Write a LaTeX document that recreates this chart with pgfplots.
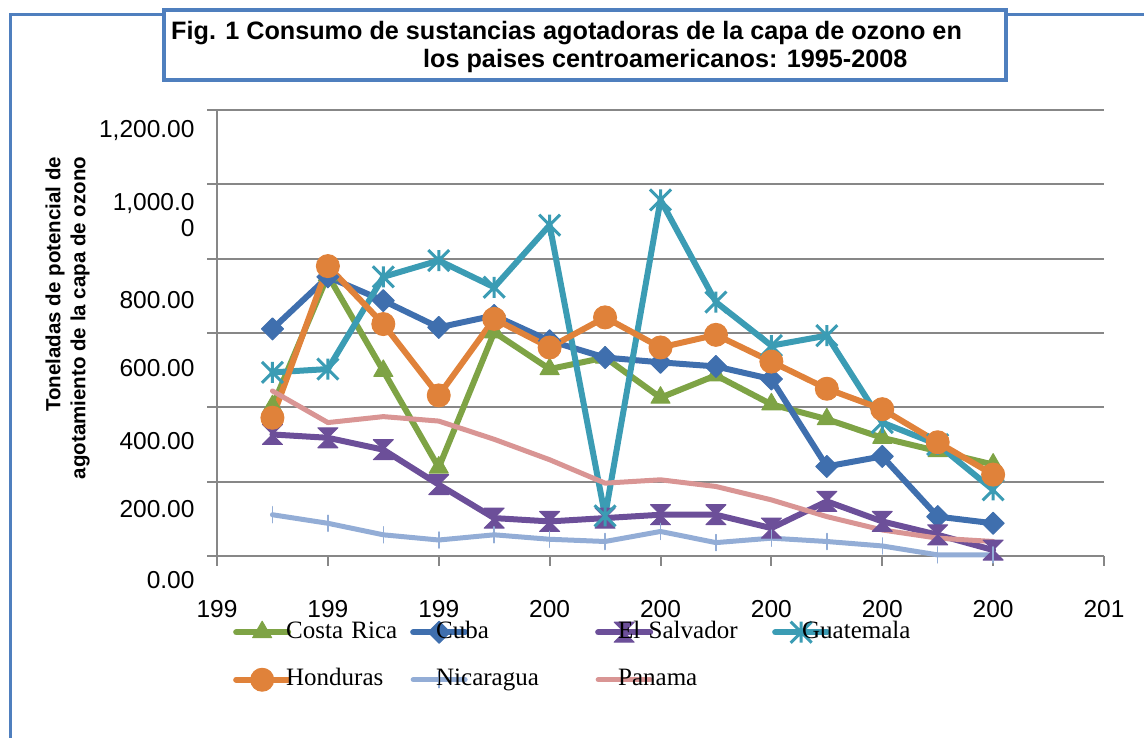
\documentclass[border=0pt]{standalone}
\usepackage{pgfplots}
\pgfplotsset{compat=1.18}
\usepackage{fontspec}
\setmainfont{Liberation Sans}
\newfontfamily\tnr{Liberation Serif}
\definecolor{cCR}{HTML}{7EA345}
\definecolor{cCU}{HTML}{3F6FAE}
\definecolor{cES}{HTML}{6C4F99}
\definecolor{cGU}{HTML}{3B9CB4}
\definecolor{cHO}{HTML}{E0823A}
\definecolor{cNI}{HTML}{93ADD6}
\definecolor{cPA}{HTML}{D99594}
\definecolor{cGrid}{HTML}{878787}
\definecolor{cFrame}{HTML}{4F7FBE}
\pgfdeclareplotmark{hourglass}{%
  \pgfpathmoveto{\pgfqpoint{-\pgfplotmarksize}{\pgfplotmarksize}}%
  \pgfpathlineto{\pgfqpoint{\pgfplotmarksize}{\pgfplotmarksize}}%
  \pgfpathlineto{\pgfqpoint{-\pgfplotmarksize}{-\pgfplotmarksize}}%
  \pgfpathlineto{\pgfqpoint{\pgfplotmarksize}{-\pgfplotmarksize}}%
  \pgfpathclose
  \pgfusepathqfillstroke}
\pgfdeclareplotmark{xstar}{%
  \pgfpathmoveto{\pgfqpoint{-\pgfplotmarksize}{-\pgfplotmarksize}}%
  \pgfpathlineto{\pgfqpoint{\pgfplotmarksize}{\pgfplotmarksize}}%
  \pgfpathmoveto{\pgfqpoint{-\pgfplotmarksize}{\pgfplotmarksize}}%
  \pgfpathlineto{\pgfqpoint{\pgfplotmarksize}{-\pgfplotmarksize}}%
  \pgfpathmoveto{\pgfqpoint{0pt}{-\pgfplotmarksize}}%
  \pgfpathlineto{\pgfqpoint{0pt}{\pgfplotmarksize}}%
  \pgfusepathqstroke}
\begin{document}
\begin{tikzpicture}[x=1pt,y=1pt]
\path[use as bounding box] (0,0) rectangle (1144,738);
% outer frame
\draw[cFrame, line width=3pt] (10,0) -- (10,723) -- (1144,723);
% title box
\draw[cFrame, line width=4pt, fill=white] (164,728) rectangle (1006,658);
\node[anchor=west, inner sep=0pt, font=\bfseries\fontsize{25.2}{28}\selectfont] at (171,705) {Fig. 1 Consumo de sustancias agotadoras de la capa de ozono en};
\node[anchor=west, inner sep=0pt, font=\bfseries\fontsize{25.2}{28}\selectfont] at (423,677) {los paises centroamericanos: 1995-2008};
% y label
\node[rotate=90, align=right, inner sep=0pt, font=\bfseries\fontsize{20.5}{25}\selectfont] at (67.5,420) {Toneladas de potencial de\\agotamiento de la capa de ozono};
\begin{axis}[
  at={(217pt,182pt)}, anchor=south west,
  scale only axis, width=887pt, height=446pt,
  xmin=1994, xmax=2010, ymin=0, ymax=1200,
  axis lines*=left,
  axis line style={cGrid, line width=2pt},
  xtick={1994,1996,1998,2000,2002,2004,2006,2008,2010},
  xticklabels={199,199,199,200,200,200,200,200,201},
  ytick={0,200,400,600,800,1000,1200},
  yticklabels={
    {\raisebox{-33pt}{0.00}},
    {\raisebox{-36pt}{200.00}},
    {\raisebox{-42pt}{400.00}},
    {\raisebox{-44pt}{600.00}},
    {\raisebox{-50pt}{800.00}},
    {\raisebox{-52pt}{\begin{tabular}[b]{@{}r@{}}1,000.0\\0\end{tabular}}},
    {\raisebox{-28pt}{1,200.00}}},
  ymajorgrids,
  grid style={cGrid, line width=2pt},
  tick align=outside,
  major tick length=10pt,
  tick style={cGrid, line width=2pt},
  xticklabel style={font=\fontsize{24.5}{26}\selectfont, anchor=base, yshift=-52pt},
  yticklabel style={font=\fontsize{24.5}{26}\selectfont, anchor=base east, xshift=-9pt},
  clip=false,
  legend columns=4,
  legend cell align=left,
  legend style={at={(axis description cs:0.018,-0.1457)}, anchor=north west, draw=none, fill=none, inner sep=0pt,
    font=\tnr\fontsize{25}{27}\selectfont,
    nodes={inner xsep=0pt, inner ysep=0pt, text height=17pt, text depth=5pt},
    /tikz/column 2/.style={nodes={text width=119pt, align=left}},
    /tikz/column 4/.style={nodes={text width=127pt, align=left}},
    /tikz/column 6/.style={nodes={text width=119pt, align=left}},
    /tikz/column 8/.style={nodes={text width=120pt, align=left}},
    row sep=25pt},
  legend image code/.code={\draw[mark repeat=2,mark phase=2,#1] plot coordinates {(0pt,0pt) (26pt,0pt) (52pt,0pt)};},
  every axis plot/.append style={line width=6pt, line join=round, line cap=round},
]
\addplot[cCR, mark=triangle*, mark size=11pt, mark options={line width=1pt}] coordinates {
(1995,403) (1996,755) (1997,498) (1998,238) (1999,602) (2000,503) (2001,534) (2002,426) (2003,486) (2004,408) (2005,368) (2006,318) (2007,282) (2008,246)};
\addlegendentry{\hspace*{-5pt}Costa Rica}
\addplot[cCU, mark=square*, mark size=7.8pt, mark options={rotate=45, line width=1pt}] coordinates {
(1995,611) (1996,751) (1997,687) (1998,615) (1999,647) (2000,579) (2001,534) (2002,521) (2003,510) (2004,476) (2005,241) (2006,268) (2007,106) (2008,88)};
\addlegendentry{\hspace*{-32pt}Cuba}
\addplot[cES, mark=hourglass, mark size=10pt, mark options={line width=1pt}] coordinates {
(1995,327) (1996,318) (1997,286) (1998,192) (1999,102) (2000,93) (2001,102) (2002,111) (2003,111) (2004,75) (2005,147) (2006,93) (2007,57) (2008,16)};
\addlegendentry{\hspace*{-35pt}El Salvador}
\addplot[cGU, mark=xstar, mark size=10.5pt, mark options={line width=3pt, line cap=butt}] coordinates {
(1995,494) (1996,503) (1997,751) (1998,795) (1999,723) (2000,890) (2001,108) (2002,958) (2003,683) (2004,566) (2005,593) (2006,359) (2007,300) (2008,178)};
\addlegendentry{\hspace*{-28pt}Guatemala}
\addplot[cHO, mark=*, mark size=11.5pt, mark options={line width=1pt}] coordinates {
(1995,372) (1996,780) (1997,624) (1998,432) (1999,638) (2000,561) (2001,642) (2002,561) (2003,595) (2004,523) (2005,450) (2006,395) (2007,306) (2008,219)};
\addlegendentry{\hspace*{-5pt}Honduras}
\addplot[cNI, line width=5pt, mark=|, mark size=8pt, mark options={line width=1.5pt}] coordinates {
(1995,111) (1996,88) (1997,57) (1998,43) (1999,57) (2000,45) (2001,39) (2002,66) (2003,36) (2004,48) (2005,39) (2006,27) (2007,3) (2008,3)};
\addlegendentry{\hspace*{-32pt}Nicaragua}
\addplot[cPA, line width=5pt, mark=none] coordinates {
(1995,444) (1996,359) (1997,375) (1998,363) (1999,314) (2000,259) (2001,196) (2002,205) (2003,187) (2004,151) (2005,106) (2006,70) (2007,48) (2008,39)};
\addlegendentry{\hspace*{-35pt}Panama}
\end{axis}
\end{tikzpicture}
\end{document}
